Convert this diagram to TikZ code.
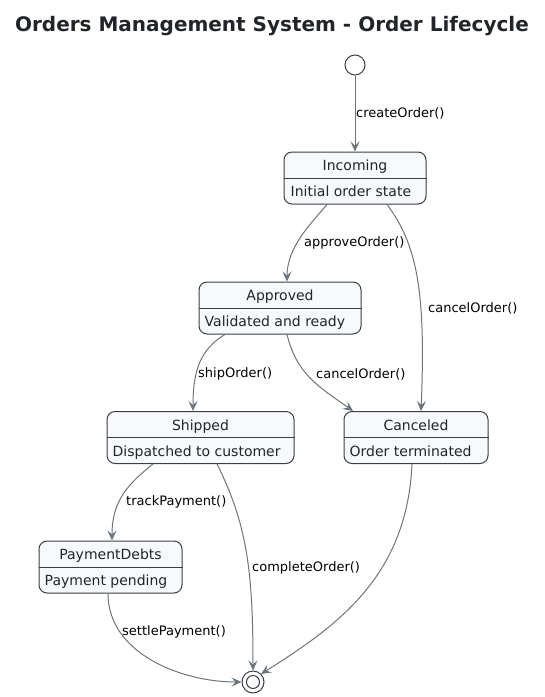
\documentclass[tikz,border=0pt]{standalone}
\usepackage{fontspec}
\setmainfont{DejaVu Sans}
\usetikzlibrary{arrows.meta}

\definecolor{boxfill}{HTML}{F8F9FA}
\definecolor{boxline}{HTML}{3A3F47}
\definecolor{edgegray}{HTML}{6C757D}
\definecolor{inktext}{HTML}{212529}

\begin{document}
\begin{tikzpicture}[x=1pt,y=-1pt,>=Stealth,
  statebox/.style={draw=boxline,line width=1pt,rounded corners=8pt,fill=boxfill,minimum height=52pt,inner sep=0pt},
  statesep/.style={draw=boxline,line width=1pt},
  statename/.style={inner sep=0pt,anchor=base,text=inktext,font=\fontsize{14}{16}\selectfont},
  statenote/.style={inner sep=0pt,anchor=base west,text=inktext,font=\fontsize{14}{16}\selectfont},
  pseudo/.style={circle,draw=boxline,line width=1pt,fill=white,inner sep=0pt},
  edge/.style={draw=edgegray,line width=1pt,-{Stealth[length=10pt,width=9pt,inset=4pt]}},
  lbl/.style={inner sep=0pt,anchor=west,font=\fontsize{13}{15}\selectfont}]
\useasboundingbox (0,0) rectangle (545,697);
\node[inner sep=0pt,text=inktext,font=\fontsize{20}{24}\selectfont\bfseries] (title) at (272,26) {Orders Management System - Order Lifecycle};

% pseudo states
\node[pseudo,minimum size=20pt] (init) at (355,65) {};
\node[pseudo,minimum size=22pt] (fin) at (253,682) {};
\node[pseudo,minimum size=13pt] (fin-in) at (fin) {};

% states
\node[statebox,minimum width=142pt] (inc) at (355,178) {};
\draw[statesep] (inc.west) -- (inc.east);
\node[statename] (inc-n) at ([yshift=7.5pt]inc.center) {Incoming};
\node[statenote] (inc-d) at ([xshift=7pt,yshift=-18.5pt]inc.west) {Initial order state};

\node[statebox,minimum width=162pt] (app) at (280,308) {};
\draw[statesep] (app.west) -- (app.east);
\node[statename] (app-n) at ([yshift=7.5pt]app.center) {Approved};
\node[statenote] (app-d) at ([xshift=6pt,yshift=-18.5pt]app.west) {Validated and ready};

\node[statebox,minimum width=187pt] (shp) at (200.5,437.5) {};
\draw[statesep] (shp.west) -- (shp.east);
\node[statename] (shp-n) at ([yshift=7.5pt]shp.center) {Shipped};
\node[statenote] (shp-d) at ([xshift=6pt,yshift=-18.5pt]shp.west) {Dispatched to customer};

\node[statebox,minimum width=144pt] (can) at (416,437.5) {};
\draw[statesep] (can.west) -- (can.east);
\node[statename] (can-n) at ([yshift=7.5pt]can.center) {Canceled};
\node[statenote] (can-d) at ([xshift=6pt,yshift=-18.5pt]can.west) {Order terminated};

\node[statebox,minimum width=143pt] (pay) at (110.5,567) {};
\draw[statesep] (pay.west) -- (pay.east);
\node[statename] (pay-n) at ([yshift=7.5pt]pay.center) {PaymentDebts};
\node[statenote] (pay-d) at ([xshift=6pt,yshift=-18.5pt]pay.west) {Payment pending};

% transitions
\draw[edge] (init) -- (inc);
\draw[edge] ([xshift=-28pt]inc.south) .. controls +(-15,18) and +(0,-35) .. ([xshift=7pt]app.north);
\draw[edge] ([xshift=32pt]inc.south) .. controls +(30,40) and +(5,-120) .. ([xshift=5pt]can.north);
\draw[edge] ([xshift=-55pt]app.south) .. controls +(-25,15) and +(0,-40) .. ([xshift=-7.5pt]shp.north);
\draw[edge] ([xshift=7pt]app.south) .. controls +(10,40) and +(-35,-25) .. ([xshift=-63pt]can.north);
\draw[edge] ([xshift=-47.5pt]shp.south) .. controls +(-25,20) and +(0,-40) .. ([xshift=1.5pt]pay.north);
\draw[edge] ([xshift=16.5pt]shp.south) .. controls +(30,60) and +(0,-100) .. (fin.north);
\draw[edge] ([xshift=-4pt]can.south) .. controls +(-5,110) and +(80,-50) .. (fin.north east);
\draw[edge] ([xshift=-2.5pt]pay.south) .. controls +(0,60) and +(-60,0) .. (fin.west);

% transition labels
\node[lbl] (l-create) at (356,113) {createOrder()};
\node[lbl] (l-approve) at (304,243) {approveOrder()};
\node[lbl] (l-cancel1) at (428,308) {cancelOrder()};
\node[lbl] (l-ship) at (198,374) {shipOrder()};
\node[lbl] (l-cancel2) at (316,374) {cancelOrder()};
\node[lbl] (l-track) at (126,502) {trackPayment()};
\node[lbl] (l-complete) at (252,568) {completeOrder()};
\node[lbl] (l-settle) at (122,632) {settlePayment()};
\end{tikzpicture}
\end{document}
